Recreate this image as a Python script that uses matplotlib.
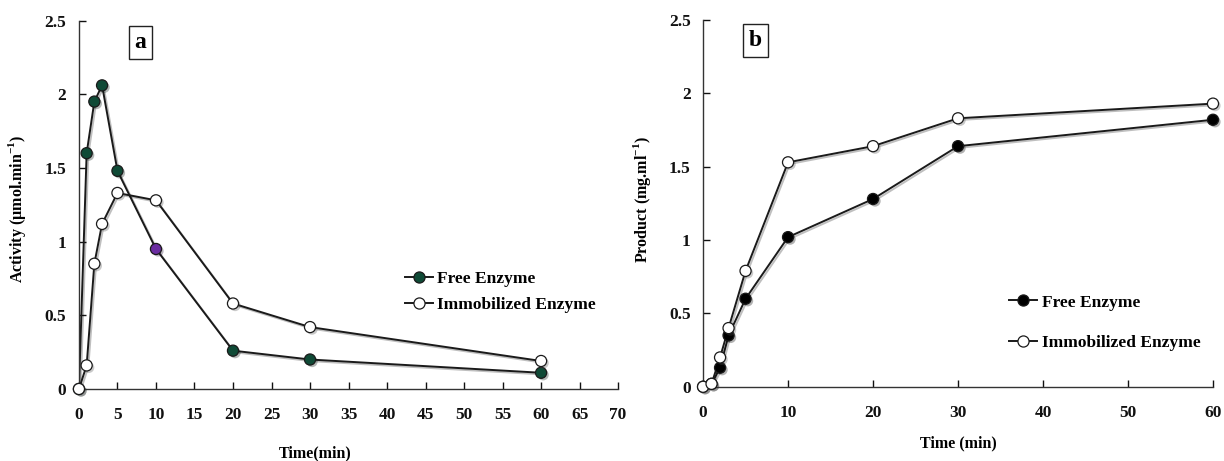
import matplotlib
matplotlib.use("Agg")
import matplotlib.pyplot as plt
import matplotlib.patheffects as pe

# ---- data ----
time_a = [0, 1, 2, 3, 5, 10, 20, 30, 60]
free_activity = [0, 1.60, 1.95, 2.06, 1.48, 0.95, 0.26, 0.20, 0.11]
immob_activity = [0, 0.16, 0.85, 1.12, 1.33, 1.28, 0.58, 0.42, 0.19]

time_b = [0, 1, 2, 3, 5, 10, 20, 30, 60]
free_product = [0, 0.02, 0.13, 0.35, 0.60, 1.02, 1.28, 1.64, 1.82]
immob_product = [0, 0.02, 0.20, 0.40, 0.79, 1.53, 1.64, 1.83, 1.93]

xticks_a = list(range(0, 71, 5))
xticks_b = list(range(0, 61, 10))
yticks = [0, 0.5, 1, 1.5, 2, 2.5]
ytick_labels = ["0", "0.5", "1", "1.5", "2", "2.5"]

plt.rcParams['font.family'] = ['Liberation Serif', 'DejaVu Serif']
plt.rcParams['font.weight'] = 'bold'
plt.rcParams['mathtext.fontset'] = 'custom'
plt.rcParams['mathtext.bf'] = 'Liberation Serif:bold'
plt.rcParams['mathtext.rm'] = 'Liberation Serif'

fig = plt.figure(figsize=(12.24, 4.61), dpi=100)
ax_a = fig.add_axes([0.0645, 0.1562, 0.4405, 0.7993])
ax_b = fig.add_axes([0.5744, 0.161, 0.4166, 0.7956])

green = '#0f4a36'
purple = '#6a2ca0'
shadow_line = [pe.SimpleLineShadow(offset=(1.2, -1.2), alpha=0.25), pe.Normal()]
shadow_mk = [pe.SimplePatchShadow(offset=(1.5, -1.5), alpha=0.3), pe.Normal()]


def series(ax, x, y, face, label, facecolors=None):
    ax.plot(x, y, color='#1a1a1a', lw=1.4, zorder=2, path_effects=shadow_line)
    fc = facecolors if facecolors is not None else [face] * len(x)
    for xi, yi, f in zip(x, y, fc):
        ax.plot([xi], [yi], ls='none', marker='o', ms=8, mfc=f, mec='#1a1a1a',
                mew=0.9, zorder=3, path_effects=shadow_mk, clip_on=False)
    # legend proxy
    ax.plot([], [], color='#1a1a1a', lw=1.4, marker='o', ms=8, mfc=face,
            mec='#1a1a1a', mew=0.9, label=label)


# panel a
fc_free_a = [green] * len(time_a)
fc_free_a[5] = purple
series(ax_a, time_a, free_activity, green, 'Free Enzyme', fc_free_a)
series(ax_a, time_a, immob_activity, 'white', 'Immobilized Enzyme')

# panel b
series(ax_b, time_b, free_product, 'black', 'Free Enzyme')
series(ax_b, time_b, immob_product, 'white', 'Immobilized Enzyme')

for ax, xt, xmax in [(ax_a, xticks_a, 70), (ax_b, xticks_b, 60)]:
    ax.set_xlim(0, xmax)
    ax.set_ylim(0, 2.5)
    ax.set_xticks(xt)
    ax.set_yticks(yticks)
    ax.set_yticklabels(ytick_labels)
    for s in ['top', 'right']:
        ax.spines[s].set_visible(False)
    for s in ['left', 'bottom']:
        ax.spines[s].set_linewidth(1.0)
        ax.spines[s].set_color('#333333')
    ax.tick_params(axis='x', direction='in', length=5, width=1, pad=13,
                   labelsize=12.5, colors='#111111')
    ax.tick_params(axis='y', direction='in', length=5, width=1, pad=9,
                   labelsize=12.5, colors='#111111')

ax_a.set_xlabel('Time(min)', fontsize=11.5, fontweight='bold')
ax_a.xaxis.set_label_coords(0.438, -0.152)
ax_a.set_ylabel('Activity (µmol.min$^{\\mathbf{-1}}$)', fontsize=11.5, fontweight='bold')
ax_a.yaxis.set_label_coords(-0.095, 0.49)

ax_b.set_xlabel('Time (min)', fontsize=11.5, fontweight='bold')
ax_b.xaxis.set_label_coords(0.5, -0.132)
ax_b.set_ylabel('Product (mg.ml$^{\\mathbf{-1}}$)', fontsize=11.5, fontweight='bold')
ax_b.yaxis.set_label_coords(-0.098, 0.509)

box = dict(boxstyle='square,pad=0.25', fc='white', ec='#222222', lw=1.0)
ax_a.text(0.114, 0.94, 'a', transform=ax_a.transAxes, ha='center', va='center',
          fontsize=17, fontweight='bold', bbox=box)
ax_b.text(0.102, 0.945, 'b', transform=ax_b.transAxes, ha='center', va='center',
          fontsize=17, fontweight='bold', bbox=box)

ax_a.legend(loc='upper left', bbox_to_anchor=(0.605, 0.321), frameon=False,
            fontsize=12.5, handlelength=1.6, handletextpad=0.25, labelspacing=0.6,
            borderpad=0, borderaxespad=0)
ax_b.legend(loc='upper left', bbox_to_anchor=(0.6, 0.252), frameon=False,
            fontsize=12.5, handlelength=1.6, handletextpad=0.3, labelspacing=1.4,
            borderpad=0, borderaxespad=0)

fig.savefig('out.png', dpi=100)
